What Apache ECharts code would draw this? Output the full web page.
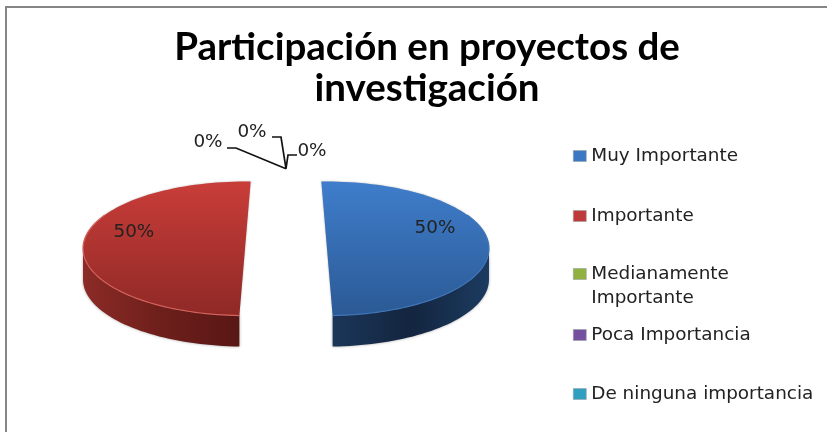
<!DOCTYPE html>
<html><head><meta charset="utf-8">
<style>html,body{margin:0;padding:0;background:#fff}#c{width:827px;height:432px}</style>
<script src="https://cdn.jsdelivr.net/npm/echarts@6/dist/echarts.min.js"></script>
</head><body><div id="c"></div>
<script>
const titleText = 'Participación en proyectos de\ninvestigación';
const categories = ['Muy Importante','Importante','Medianamente Importante','Poca Importancia','De ninguna importancia'];
const shares = [50,50,0,0,0];

// layout and style, separate from the data
const colors = ['#3b78c4','#c0393a','#8fb13d','#7650a0','#2f9fc0'];
const faceTop = ['#3f7dcb','#c93d39',null,null,null];
const faceBottom = ['#2b5a95','#8f2926',null,null,null];
const rim = ['#3f74b8','#d4605a',null,null,null];
const wallStops = [['#1b3659','#13253f','#1c3b60'],['#8c2b27','#6e1f1b','#581715'],null,null,null];
const legendTops = [144,204,238,323,382];
const zeroLabels = {2:{t:[208,142],p:[[227,148],[236,148]]},3:{t:[252,132],p:[[272,137],[281,137]]},4:{t:[312,151],p:[[297,155],[288,155]]}};
const cutTilt = [-2,2,0,0,0];
const labelAngle = [68,-72];
const cx=286, cy=249, rx=162, ry=67, depth=31, explode=41, squash=0.3;
const font='"DejaVu Sans"', labelSize=18.4;
const total=shares.reduce((a,b)=>a+b,0);

function pt(c,deg,x,y){const r=deg*Math.PI/180;return [c[0]+Math.sin(r)*x,c[1]-Math.cos(r)*y];}
function arc(c,a0,a1){const n=Math.max(2,Math.ceil(Math.abs(a1-a0)/2));const o=[];
  for(let i=0;i<=n;i++)o.push(pt(c,a0+(a1-a0)*i/n,rx,ry));return o;}
const G=echarts.graphic.LinearGradient;

function renderSlice(i){return function(params,api){
  const v=api.value(0);
  let before=0;for(let k=0;k<i;k++)before+=shares[k];
  const a0=before/total*360+cutTilt[i], a1=(before+v)/total*360+cutTilt[i];
  const mid=(a0+a1)/2;
  const kids=[];
  const textStyle={text:v+'%',font:labelSize+'px '+font,fill:'#222',align:'center',verticalAlign:'middle'};
  if(v===0){
    const tip=pt([cx,cy-1],a0,rx+explode,ry+explode*squash);
    const z=zeroLabels[i];
    kids.push({type:'polyline',shape:{points:z.p.concat([tip])},style:{fill:null,stroke:'#111',lineWidth:1.7}});
    kids.push({type:'text',x:z.t[0],y:z.t[1],style:textStyle});
    return {type:'group',children:kids};
  }
  const c=pt([cx,cy],mid,explode,explode*squash);
  // front wall
  const w0=Math.max(a0,90), w1=Math.min(a1,270);
  if(w1>w0){
    const top=arc(c,w0,w1);
    const bottom=top.map(p=>[p[0],p[1]+depth]).reverse();
    kids.push({type:'polygon',shape:{points:top.concat(bottom)},style:{
      fill:new G(0,0,1,0,[{offset:0,color:wallStops[i][0]},{offset:.5,color:wallStops[i][1]},{offset:1,color:wallStops[i][2]}]),
      shadowBlur:3,shadowColor:'rgba(0,0,0,0.35)'}});
  }
  // top face
  const face=[c].concat(arc(c,a0,a1));
  kids.push({type:'polygon',shape:{points:face},style:{
    fill:new G(0,0,0,1,[{offset:0,color:faceTop[i]},{offset:1,color:faceBottom[i]}]),
    shadowBlur:2,shadowColor:'rgba(0,0,0,0.3)'}});
  kids.push({type:'polyline',shape:{points:arc(c,Math.max(a0,60),Math.min(a1,300))},style:{fill:null,stroke:rim[i],lineWidth:1.2}});
  // label
  const lp=pt(c,(i===0?a0:a1)+labelAngle[i],rx*0.73,ry*0.73);
  kids.push({type:'text',x:lp[0],y:lp[1],style:textStyle});
  return {type:'group',children:kids};
};}

const chart=echarts.init(document.getElementById('c'),null,{renderer:'canvas'});
chart.setOption({
  animation:false,
  backgroundColor:'#fff',
  title:{text:titleText,left:427,top:27,textAlign:'center',padding:0,
    textStyle:{fontFamily:'Lato',fontWeight:'bold',fontSize:38.5,lineHeight:41,color:'#000'}},
  legend:categories.map((c,i)=>({
    data:[c],left:573,top:legendTops[i],orient:'vertical',padding:0,
    itemWidth:13,itemHeight:11,itemGap:0,selectedMode:false,
    icon:'rect',
    formatter:n=>n.replace('Medianamente ','\nMedianamente\n'),
    textStyle:{fontFamily:font,fontSize:labelSize,color:'#222',lineHeight:24},
    itemStyle:{borderColor:'#9aa0a6',borderWidth:0.6}
  })),
  graphic:[
    {type:'line',shape:{x1:6,y1:7,x2:827,y2:7},style:{stroke:'#868686',lineWidth:2},silent:true},
    {type:'line',shape:{x1:6,y1:6,x2:6,y2:432},style:{stroke:'#868686',lineWidth:2},silent:true}
  ],
  series:categories.map((c,i)=>({
    name:c,type:'custom',coordinateSystem:'none',
    itemStyle:{color:colors[i]},
    renderItem:renderSlice(i),
    data:[[shares[i]]],z:i===0||i===1?2:3
  }))
});
</script></body></html>
